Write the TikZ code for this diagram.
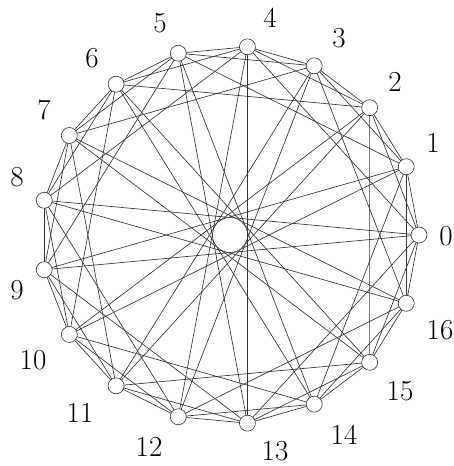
\documentclass[tikz,border=0pt]{standalone}
\begin{document}
\begin{tikzpicture}[x=1pt,y=-1pt,
  vertex/.style={circle,draw=black!80,fill=white,line width=0.6pt,minimum size=16pt,inner sep=0pt},
  edge/.style={draw=black!80,line width=0.65pt},
  lbl/.style={font=\fontsize{29}{29}\selectfont,inner sep=0pt}]
\useasboundingbox (0,0) rectangle (454,466);
\foreach \i in {0,...,16}{
  \coordinate (p\i) at ({230+189*cos(360*\i/17)},{235-189*sin(360*\i/17)});
}
\foreach \i in {0,...,16}{
  \foreach \d in {1,2,4,8}{
    \pgfmathtruncatemacro{\j}{mod(\i+\d,17)}
    \draw[edge] (p\i) -- (p\j);
  }
}
\foreach \i in {0,...,16}{
  \node[vertex] (v\i) at (p\i) {};
}
\node[lbl] (l0) at (446,236) {0};
\node[lbl] (l1) at (433,143) {1};
\node[lbl] (l2) at (395,82) {2};
\node[lbl] (l3) at (339,38) {3};
\node[lbl] (l4) at (270,18) {4};
\node[lbl] (l5) at (160,23) {5};
\node[lbl] (l6) at (92,58) {6};
\node[lbl] (l7) at (44,110) {7};
\node[lbl] (l8) at (17,177) {8};
\node[lbl] (l9) at (17,290) {9};
\node[lbl] (l10) at (33,360) {10};
\node[lbl] (l11) at (80,413) {11};
\node[lbl] (l12) at (149,447) {12};
\node[lbl] (l13) at (275,451) {13};
\node[lbl] (l14) at (344,435) {14};
\node[lbl] (l15) at (400,391) {15};
\node[lbl] (l16) at (440,330) {16};
\end{tikzpicture}
\end{document}
